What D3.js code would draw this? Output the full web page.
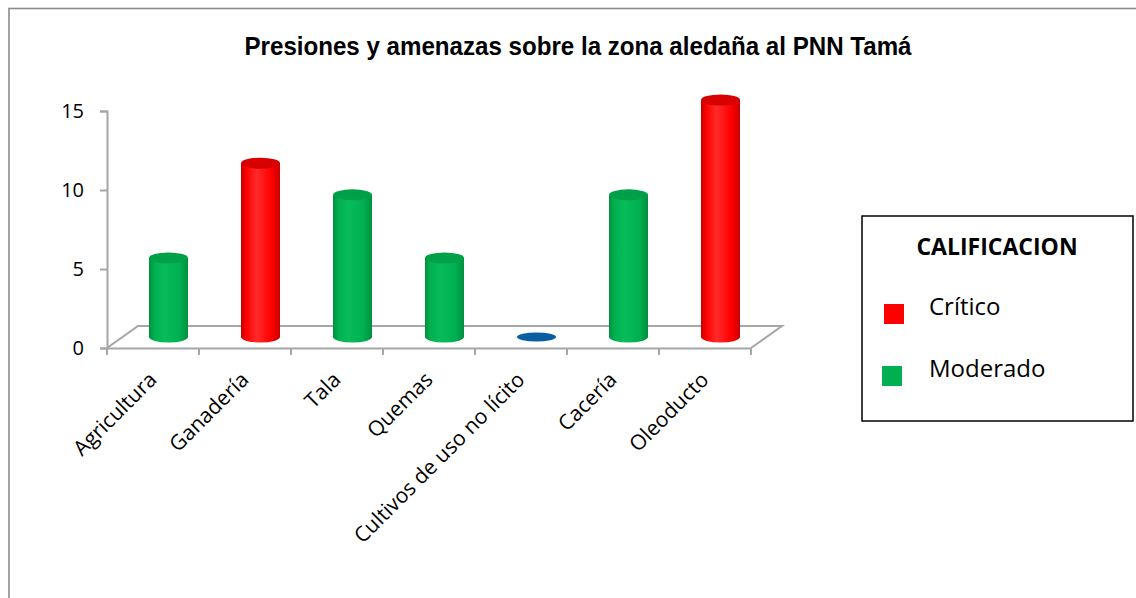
<!DOCTYPE html>
<html>
<head>
<meta charset="utf-8">
<script src="https://cdn.jsdelivr.net/npm/d3@7"></script>
<style>
  html, body { margin: 0; padding: 0; background: #ffffff; }
  svg { display: block; }
</style>
</head>
<body>
<svg id="chart" width="1136" height="598"></svg>
<script>
// Presiones y amenazas: score per pressure, coloured by rating
const categories = ["Agricultura", "Ganadería", "Tala", "Quemas", "Cultivos de uso no lícito", "Cacería", "Oleoducto"];
const values = [5, 11, 9, 5, 0, 9, 15];
const ratings = ["Moderado", "Crítico", "Moderado", "Moderado", null, "Moderado", "Crítico"];
const yTicks = [0, 5, 10, 15];
const legendLabels = ["Crítico", "Moderado"];
const legendTitle = "CALIFICACION";
const chartTitle = "Presiones y amenazas sobre la zona aledaña al PNN Tamá";

// colour per rating (unrated values fall back to blue)
const palette = {
  "Crítico":  { base: "#ff0000", dark: "#c80000", light: "#ff2a2a", top: "#d80000" },
  "Moderado": { base: "#00b050", dark: "#008f40", light: "#08bc5a", top: "#00a048" },
  "none":     { base: "#0a5fa3", dark: "#05467c", light: "#2a78b8", top: "#0a5fa3" }
};

const svg = d3.select("#chart");
const W = 1136, H = 598;

// chart frame
svg.append("rect")
  .attr("x", 9).attr("y", 8.5).attr("width", W + 20).attr("height", H + 20)
  .attr("fill", "none").attr("stroke", "#8c8c8c").attr("stroke-width", 1.6);

// title
svg.append("text")
  .attr("x", 578).attr("y", 55)
  .attr("text-anchor", "middle")
  .attr("font-family", "'Liberation Sans Narrow', 'Arial Narrow', 'Liberation Sans', sans-serif")
  .attr("font-weight", "bold")
  .attr("font-size", 26)
  .attr("textLength", 667)
  .attr("lengthAdjust", "spacingAndGlyphs")
  .attr("fill", "#000")
  .text(chartTitle);

// scales: front plane of the 3D box
const x = d3.scaleBand().domain(categories).range([107, 751]).paddingInner(0).paddingOuter(0);
const y = d3.scaleLinear().domain([0, 15]).range([348, 111]);

// depth of the floor (perspective offset of the back edge)
const depthX = 31, depthY = 22;
const gridColor = "#a6a6a6";

const g = svg.append("g");

// floor outline
const x0 = x.range()[0], x1 = x.range()[1], yb = y(0);
g.append("path")
  .attr("d", `M${x0},${yb} L${x0 + depthX},${yb - depthY} L${x1 + depthX},${yb - depthY} L${x1},${yb}`)
  .attr("fill", "none").attr("stroke", gridColor).attr("stroke-width", 2);

// y axis
const yAxis = d3.axisLeft(y).tickValues(yTicks).tickSize(7).tickPadding(16).tickFormat(d3.format("d"));
const ya = g.append("g").attr("transform", `translate(${x0},0)`).call(yAxis);
ya.select(".domain").attr("stroke", gridColor).attr("stroke-width", 2);
ya.selectAll(".tick line").attr("stroke", gridColor).attr("stroke-width", 2);
ya.selectAll(".tick text")
  .attr("font-family", "'Open Sans', sans-serif").attr("font-size", 20).attr("fill", "#000");

// x axis (front floor edge)
const xAxis = d3.axisBottom(x).tickSize(0).tickFormat("");
const xa = g.append("g").attr("transform", `translate(0,${yb})`).call(xAxis);
xa.select(".domain").attr("stroke", gridColor).attr("stroke-width", 2);
// tick marks at category boundaries
const boundaries = categories.map(c => x(c)).concat([x1]);
xa.selectAll(".bound").data(boundaries).join("line")
  .attr("class", "bound")
  .attr("x1", d => d).attr("x2", d => d)
  .attr("y1", 0).attr("y2", 7)
  .attr("stroke", gridColor).attr("stroke-width", 2);

// category labels, rotated
g.selectAll(".cat").data(categories).join("text")
  .attr("class", "cat")
  .attr("transform", d => `translate(${x(d) + x.bandwidth() / 2 + 5},${yb + 33}) rotate(-45)`)
  .attr("text-anchor", "end")
  .attr("font-family", "'Open Sans', sans-serif")
  .attr("font-size", 21)
  .attr("fill", "#000")
  .text(d => d);

// gradients for cylinder bodies
const defs = svg.append("defs");
Object.entries(palette).forEach(([k, p], i) => {
  const gr = defs.append("linearGradient").attr("id", "cyl" + i)
    .attr("x1", "0%").attr("x2", "100%").attr("y1", "0%").attr("y2", "0%");
  gr.append("stop").attr("offset", "0%").attr("stop-color", p.dark);
  gr.append("stop").attr("offset", "14%").attr("stop-color", p.base);
  gr.append("stop").attr("offset", "40%").attr("stop-color", p.light);
  gr.append("stop").attr("offset", "78%").attr("stop-color", p.base);
  gr.append("stop").attr("offset", "100%").attr("stop-color", p.dark);
  p.grad = "url(#cyl" + i + ")";
});

// cylinders
const rx = 19.5, ry = 5.5;
const bars = categories.map((c, i) => ({
  cat: c, value: values[i],
  pal: palette[ratings[i] || "none"],
  cx: x(c) + x.bandwidth() / 2 + depthX / 2,
  base: y(0) - depthY / 2,
  top: y(values[i]) - depthY / 2
}));

const bar = g.selectAll(".bar").data(bars).join("g").attr("class", "bar");

// body
bar.filter(d => d.value > 0).append("path")
  .attr("d", d => `M${d.cx - rx},${d.top} L${d.cx - rx},${d.base} A${rx},${ry} 0 0 0 ${d.cx + rx},${d.base} L${d.cx + rx},${d.top} Z`)
  .attr("fill", d => d.pal.grad);

// top cap
bar.append("ellipse")
  .attr("cx", d => d.cx).attr("cy", d => d.top)
  .attr("rx", rx).attr("ry", d => d.value > 0 ? ry : 4.5)
  .attr("fill", d => d.pal.top);

// legend
const lg = svg.append("g");
lg.append("rect")
  .attr("x", 862).attr("y", 216).attr("width", 271).attr("height", 205)
  .attr("fill", "#fff").attr("stroke", "#000").attr("stroke-width", 1.5);
lg.append("text")
  .attr("x", 997).attr("y", 255).attr("text-anchor", "middle")
  .attr("font-family", "'Open Sans', sans-serif").attr("font-weight", "bold")
  .attr("font-size", 23).attr("fill", "#000")
  .text(legendTitle);
const items = lg.selectAll(".item").data(legendLabels).join("g").attr("class", "item")
  .attr("transform", (d, i) => `translate(0,${i * 62})`);
items.append("rect")
  .attr("x", (d, i) => 884 - i * 2).attr("y", 304).attr("width", 20).attr("height", 20)
  .attr("fill", d => palette[d].base);
items.append("text")
  .attr("x", 929).attr("y", 315)
  .attr("font-family", "'Open Sans', sans-serif").attr("font-size", 24).attr("fill", "#000")
  .text(d => d);
</script>
</body>
</html>
